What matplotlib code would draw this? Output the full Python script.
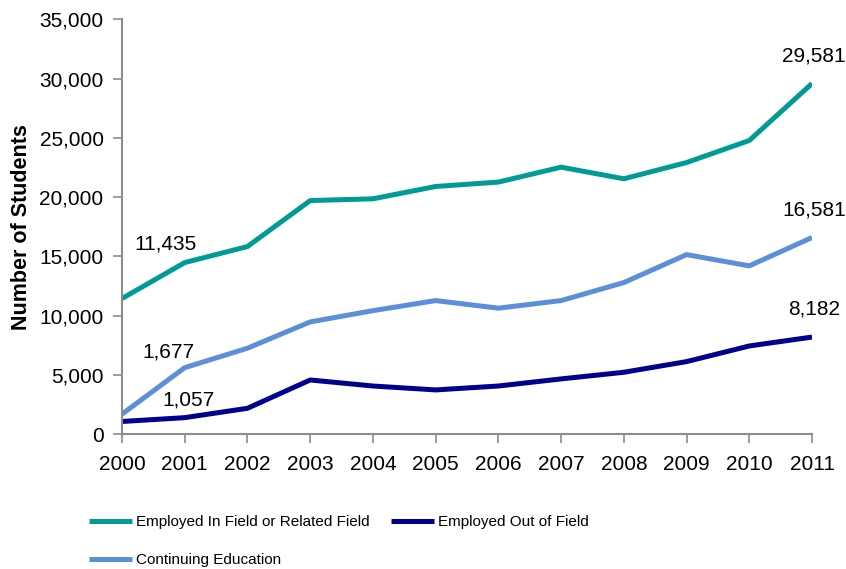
import matplotlib.pyplot as plt
from matplotlib.ticker import FuncFormatter

plt.rcParams['font.family'] = ['Liberation Sans', 'DejaVu Sans']

years = list(range(2000, 2012))
in_field = [11435, 14470, 15820, 19700, 19850, 20890, 21260, 22520, 21540, 22910, 24770, 29581]
out_field = [1057, 1380, 2170, 4560, 4050, 3720, 4050, 4650, 5210, 6110, 7430, 8182]
cont_edu = [1677, 5600, 7240, 9460, 10410, 11260, 10620, 11260, 12780, 15140, 14190, 16581]

teal = '#009B96'
navy = '#00008F'
light = '#5B90D9'
grey = '#8C8C8C'

fig = plt.figure(figsize=(8.46, 5.69), dpi=100)
ax = fig.add_axes([122 / 846, 1 - 434 / 569, 690 / 846, 414.7 / 569])

ax.plot(years, in_field, color=teal, lw=3.6, label='Employed In Field or Related Field', solid_capstyle='butt')
ax.plot(years, cont_edu, color=light, lw=3.6, label='Continuing Education', solid_capstyle='butt')
ax.plot(years, out_field, color=navy, lw=3.6, label='Employed Out of Field', solid_capstyle='butt')

ax.set_xlim(2000, 2011)
ax.set_ylim(0, 35000)
ax.set_xticks(years)
ax.set_yticks(range(0, 35001, 5000))
ax.yaxis.set_major_formatter(FuncFormatter(lambda v, p: f'{int(v):,}'))
ax.tick_params(labelsize=15, color=grey, length=6.3, width=1.2)
ax.tick_params(axis='x', pad=9)
ax.tick_params(axis='y', pad=7)
for s in ['top', 'right']:
    ax.spines[s].set_visible(False)
for s in ['left', 'bottom']:
    ax.spines[s].set_color(grey)
    ax.spines[s].set_linewidth(1.5)
ax.set_ylabel('Number of Students', fontsize=15.5, fontweight='bold')
ax.yaxis.set_label_coords(-(122 - 32) / 690, 0.5)

# value labels near the first and last points
ax.annotate(f'{in_field[0]:,}', (2001, in_field[1]), xytext=(-13.5, 13.5), textcoords='offset points',
            ha='center', va='center', fontsize=15)
ax.annotate(f'{cont_edu[0]:,}', (2001, cont_edu[1]), xytext=(-11.5, 11), textcoords='offset points',
            ha='center', va='center', fontsize=15)
ax.annotate(f'{out_field[0]:,}', (2001, out_field[1]), xytext=(2.5, 12.5), textcoords='offset points',
            ha='center', va='center', fontsize=15)
for series in [in_field, cont_edu, out_field]:
    ax.annotate(f'{series[-1]:,}', (2011, series[-1]), xytext=(1.5, 20), textcoords='offset points',
                ha='center', va='center', fontsize=15)

fig.legend(loc='upper left', bbox_to_anchor=(89 / 846, 1 - 515 / 569), ncol=2, frameon=False,
           fontsize=11, handlelength=2.8, handletextpad=0.27, columnspacing=1.4, labelspacing=1.6,
           borderpad=0, borderaxespad=0)

fig.savefig('out.png', dpi=100)
